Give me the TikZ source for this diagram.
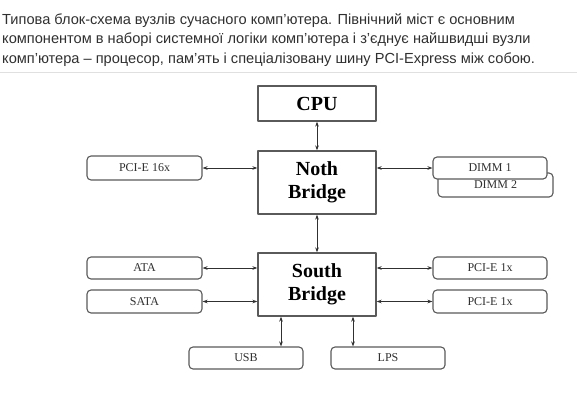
\documentclass[tikz,border=0pt]{standalone}
\usepackage{fontspec}
\setmainfont{Liberation Serif}
\newfontfamily\capfont{Liberation Sans}
\usetikzlibrary{arrows.meta}
\definecolor{boxgray}{HTML}{5A5A5A}
\definecolor{txtgray}{HTML}{303030}
\tikzset{
  bigbox/.style={draw=boxgray,line width=1.3pt,fill=white,minimum width=118pt,font=\fontsize{20}{23}\selectfont\bfseries,align=center,inner sep=0pt},
  smallbox/.style={draw=boxgray,line width=1.1pt,fill=white,rounded corners=4pt,minimum width=115pt,minimum height=23pt,font=\fontsize{12}{13}\selectfont,text=txtgray,inner sep=0pt},
  caption/.style={anchor=base west,font=\capfont\fontsize{14.6}{17}\selectfont,text=txtgray,inner sep=0pt}
}
\begin{document}
\begin{tikzpicture}[x=1pt,y=-1pt,line join=round,line cap=round,>={Stealth[length=5pt,width=3.6pt]}]
	\useasboundingbox[fill=white] (0,0) rectangle (577,407);
	\node[caption] (capA) at (2,24) {Типова блок-схема вузлів сучасного комп’ютера. Північний міст є основним};
	\node[caption] (capB) at (2,43.5) {компонентом в наборі системної логіки комп’ютера і з’єднує найшвидші вузли};
	\node[caption] (capC) at (2,63) {комп’ютера – процесор, пам’ять і спеціалізовану шину PCI-Express між собою.};
	\draw[black!12,line width=0.8pt] (0,72.5)--(577,72.5);
	\node[bigbox,minimum height=35pt] (cpu) at (317,103.5) {CPU};
	\node[bigbox,minimum height=63pt] (nb) at (317,182.5) {Noth\\Bridge};
	\node[bigbox,minimum height=63pt] (sb) at (317,284.5) {South\\Bridge};
	\node[smallbox,minimum height=24pt] (pcie16) at (144.5,168) {PCI-E 16x};
	\node[smallbox,minimum height=24pt] (dimmB) at (495.5,185) {DIMM 2};
	\node[smallbox,minimum width=114pt,minimum height=22pt] (dimmA) at (490,168) {DIMM 1};
	\node[smallbox,minimum height=22pt] (ata) at (144.5,268) {ATA};
	\node[smallbox] (sata) at (144.5,301.5) {SATA};
	\node[smallbox,minimum width=114pt,minimum height=22pt] (pcieA) at (490,268) {PCI-E 1x};
	\node[smallbox,minimum width=114pt] (pcieB) at (490,301.5) {PCI-E 1x};
	\node[smallbox,minimum width=114pt,minimum height=22pt] (usb) at (246,358) {USB};
	\node[smallbox,minimum width=114pt,minimum height=22pt] (lps) at (388,358) {LPS};
	\begin{scope}[draw=txtgray,line width=0.9pt]
		\draw[<->] (cpu)--(nb);
		\draw[<->] (nb)--(sb);
		\draw[<->] (pcie16.east)--(pcie16.east -| nb.west);
		\draw[<->] (nb.east |- dimmA.west)--(dimmA.west);
		\draw[<->] (ata.east)--(ata.east -| sb.west);
		\draw[<->] (sata.east)--(sata.east -| sb.west);
		\draw[<->] (sb.east |- pcieA.west)--(pcieA.west);
		\draw[<->] (sb.east |- pcieB.west)--(pcieB.west);
		\draw[<->] ([xshift=35pt]usb.north |- sb.south)--([xshift=35pt]usb.north);
		\draw[<->] ([xshift=-35pt]lps.north |- sb.south)--([xshift=-35pt]lps.north);
	\end{scope}
\end{tikzpicture}
\end{document}
